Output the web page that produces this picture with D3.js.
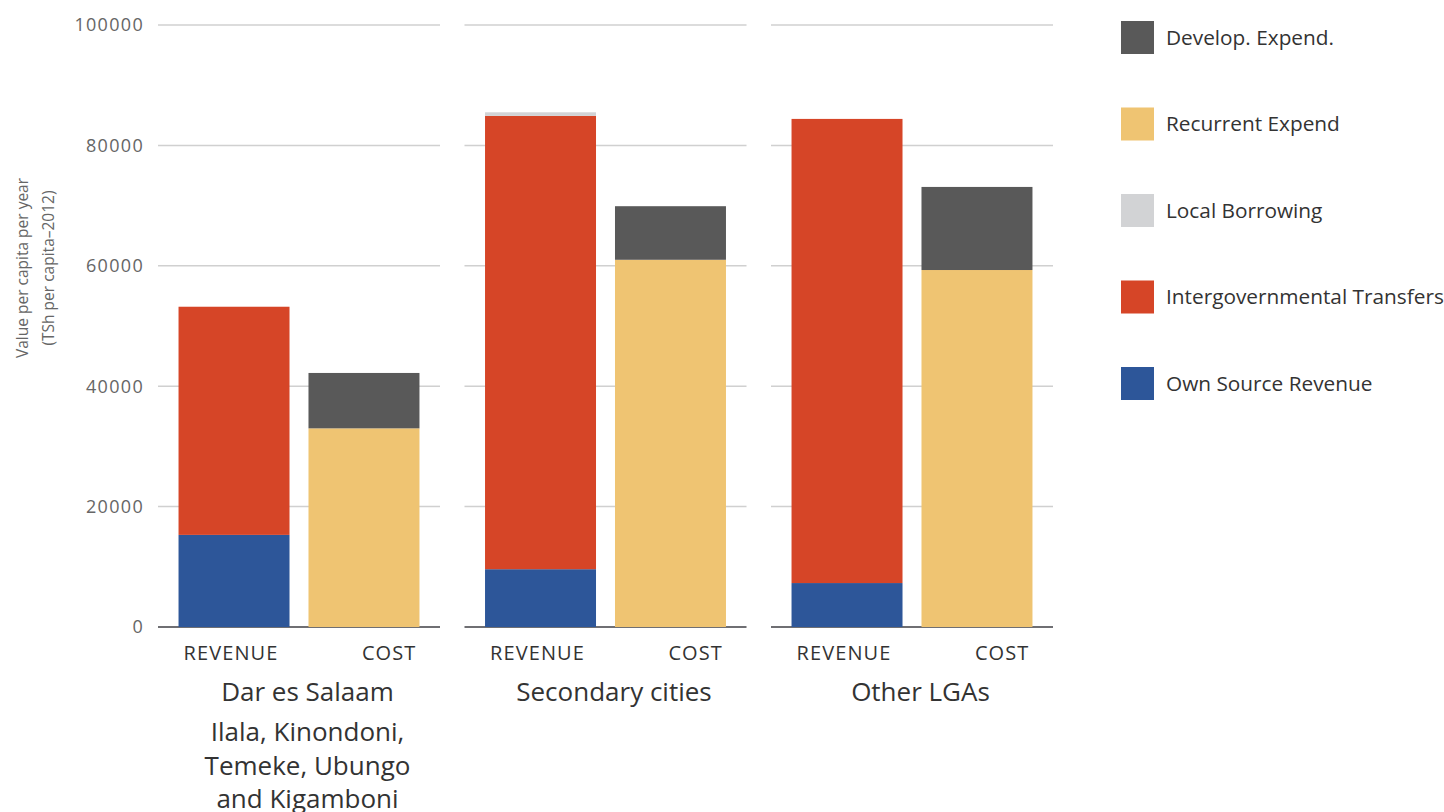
<!DOCTYPE html>
<html>
<head>
<meta charset="utf-8">
<script src="https://cdn.jsdelivr.net/npm/d3@7"></script>
<style>
  html, body { margin: 0; padding: 0; background: #fff; }
  svg { display: block; font-family: "Open Sans", Lato, sans-serif; }
</style>
</head>
<body>
<svg id="chart" width="1444" height="812"></svg>
<script>
// Groups of local government authorities and the two bars drawn in each
const groups = ["Dar es Salaam", "Secondary cities", "Other LGAs"];
const groupSubtitles = [["Ilala, Kinondoni,", "Temeke, Ubungo", "and Kigamboni"], [], []];
const bars = ["REVENUE", "COST"];

// Stack layers, bottom to top (TSh per capita per year, 2012)
const seriesNames = ["Own Source Revenue", "Intergovernmental Transfers", "Local Borrowing", "Recurrent Expend", "Develop. Expend."];
const seriesColors = ["#2d5699", "#d64527", "#d2d3d5", "#efc472", "#595959"];

// Values per group for the REVENUE bar
const ownSourceRevenue = [15300, 9600, 7300];
const intergovTransfers = [37900, 75300, 77100];
const localBorrowing = [0, 600, 0];
// Values per group for the COST bar
const recurrentExpend = [33000, 61000, 59300];
const developExpend = [9200, 8900, 13800];

const yTicks = [0, 20000, 40000, 60000, 80000, 100000];
const legendOrder = ["Develop. Expend.", "Recurrent Expend", "Local Borrowing", "Intergovernmental Transfers", "Own Source Revenue"];

// Build stacked rows: one row per (group, bar)
const rows = [];
groups.forEach((g, i) => {
  rows.push({ group: g, bar: "REVENUE",
    "Own Source Revenue": ownSourceRevenue[i],
    "Intergovernmental Transfers": intergovTransfers[i],
    "Local Borrowing": localBorrowing[i],
    "Recurrent Expend": 0, "Develop. Expend.": 0 });
  rows.push({ group: g, bar: "COST",
    "Own Source Revenue": 0, "Intergovernmental Transfers": 0, "Local Borrowing": 0,
    "Recurrent Expend": recurrentExpend[i],
    "Develop. Expend.": developExpend[i] });
});
const stacked = d3.stack().keys(seriesNames)(rows);
const color = d3.scaleOrdinal().domain(seriesNames).range(seriesColors);

const svg = d3.select("#chart");

const plotTop = 25, plotBottom = 627;
const y = d3.scaleLinear().domain([0, 100000]).range([plotBottom, plotTop]);

// Panel positions: each group gets its own panel with a constant step
const panelW = 282, panelStep = 306.5, panelLeft = 158;
const xGroup = d3.scaleOrdinal().domain(groups).range(groups.map((g, i) => panelLeft + i * panelStep));
const xBar = d3.scaleBand().domain(bars).range([0, panelW]).paddingInner(0.146).paddingOuter(0.158);

// Y tick labels
svg.append("g")
  .selectAll("text")
  .data(yTicks)
  .join("text")
  .attr("x", 144)
  .attr("y", d => y(d))
  .attr("dy", "0.36em")
  .attr("text-anchor", "end")
  .attr("fill", "#666")
  .style("font-size", "18px")
  .style("letter-spacing", "1.3px")
  .text(d => d);

// Y axis title
svg.append("text")
  .attr("transform", "translate(35,268) rotate(-90)")
  .attr("text-anchor", "middle")
  .attr("fill", "#666")
  .style("font-size", "15.5px")
  .selectAll("tspan")
  .data(["Value per capita per year", "(TSh per capita\u20132012)"])
  .join("tspan")
  .attr("x", 0)
  .attr("dy", (d, i) => i === 0 ? "-0.45em" : "1.65em")
  .text(d => d);

// Panels
const panels = svg.append("g")
  .selectAll("g")
  .data(groups)
  .join("g")
  .attr("transform", d => `translate(${xGroup(d)},0)`);

// Gridlines
panels.each(function () {
  d3.select(this).selectAll("line.grid")
    .data(yTicks.filter(t => t > 0))
    .join("line")
    .attr("class", "grid")
    .attr("x1", 0).attr("x2", panelW)
    .attr("y1", d => y(d)).attr("y2", d => y(d))
    .attr("stroke", "#d0d0d0")
    .attr("stroke-width", 1.5);
});

// Stacked bars
stacked.forEach(layer => {
  const key = layer.key;
  layer.forEach(seg => {
    const d = seg.data;
    if (seg[1] - seg[0] <= 0) return;
    svg.append("rect")
      .attr("x", xGroup(d.group) + xBar(d.bar))
      .attr("width", xBar.bandwidth())
      .attr("y", y(seg[1]))
      .attr("height", y(seg[0]) - y(seg[1]))
      .attr("fill", color(key));
  });
});

// Baseline
panels.append("line")
  .attr("x1", 0).attr("x2", panelW)
  .attr("y1", y(0)).attr("y2", y(0))
  .attr("stroke", "#6f6f73")
  .attr("stroke-width", 2);

// Bar labels: REVENUE centred under its bar, COST aligned to its bar's right edge
panels.selectAll("text.bar")
  .data(bars)
  .join("text")
  .attr("class", "bar")
  .attr("x", (d, i) => i === 0 ? xBar(d) + xBar.bandwidth() / 2 - 3 : xBar(d) + xBar.bandwidth() - 3)
  .attr("y", 660)
  .attr("text-anchor", (d, i) => i === 0 ? "middle" : "end")
  .attr("fill", "#333")
  .style("font-size", "20px")
  .style("letter-spacing", "1.1px")
  .text(d => d);

// Group labels
const labelX = panelW / 2 + 8.5;
panels.append("text")
  .attr("x", labelX)
  .attr("y", 701)
  .attr("text-anchor", "middle")
  .attr("fill", "#333")
  .style("font-size", "26px")
  .text(d => d);

panels.each(function (g, i) {
  d3.select(this).selectAll("text.sub")
    .data(groupSubtitles[i])
    .join("text")
    .attr("class", "sub")
    .attr("x", labelX)
    .attr("y", (d, j) => 741 + j * 33.5)
    .attr("text-anchor", "middle")
    .attr("fill", "#333")
    .style("font-size", "26px")
    .text(d => d);
});

// Legend
const legend = svg.append("g")
  .selectAll("g")
  .data(legendOrder)
  .join("g")
  .attr("transform", (d, i) => `translate(1121,${21 + i * 86.5})`);

legend.append("rect")
  .attr("width", 33).attr("height", 33)
  .attr("fill", d => color(d));

legend.append("text")
  .attr("x", 45)
  .attr("y", 16.5)
  .attr("dy", "0.36em")
  .attr("fill", "#333")
  .style("font-size", "20.8px")
  .text(d => d);
</script>
</body>
</html>
